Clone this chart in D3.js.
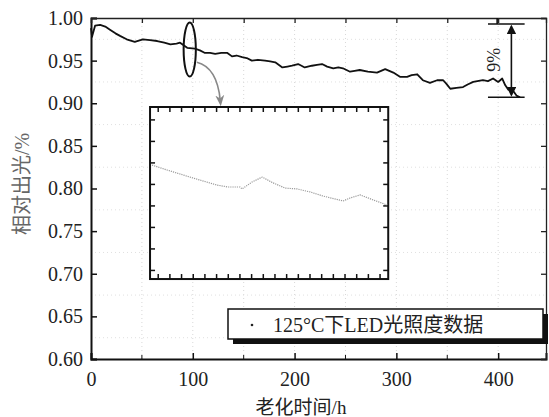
<!DOCTYPE html>
<html>
<head>
<meta charset="utf-8">
<script src="https://cdn.jsdelivr.net/npm/d3@7"></script>
<style>
  body { margin: 0; background: #fff; }
  svg text { font-family: "Liberation Serif", "Times New Roman", "DejaVu Serif", "Noto Sans CJK SC", serif !important; }
</style>
</head>
<body>
<div id="chart"></div>
<script>
// aging data: time (h) and relative light output
const hours = [0, 1, 4, 9, 14, 19, 24, 28.5, 35, 43, 51, 58, 65, 72, 78, 84, 87.5, 94.5, 102, 107, 112, 117, 122, 128, 134, 138.5, 143, 148.5, 153, 158, 164, 171, 176, 181, 188, 193, 197.5, 203.5, 210, 217, 222, 227, 232, 238, 243, 247.5, 254.5, 259, 264, 272, 281, 289, 293, 297, 303.5, 310.5, 315, 320.5, 326, 333, 340, 346, 349, 353, 359, 365.5, 370, 375.5, 385, 390, 395, 400, 404, 407, 410, 415, 418, 421.5];
const output = [0.988, 0.978, 0.991, 0.992, 0.990, 0.986, 0.982, 0.979, 0.975, 0.972, 0.975, 0.974, 0.973, 0.971, 0.969, 0.970, 0.971, 0.965, 0.964, 0.962, 0.959, 0.959, 0.958, 0.959, 0.959, 0.955, 0.956, 0.954, 0.953, 0.950, 0.951, 0.950, 0.949, 0.948, 0.942, 0.943, 0.944, 0.946, 0.942, 0.944, 0.945, 0.946, 0.943, 0.941, 0.942, 0.941, 0.937, 0.938, 0.939, 0.937, 0.936, 0.940, 0.938, 0.936, 0.931, 0.931, 0.933, 0.934, 0.927, 0.924, 0.927, 0.927, 0.923, 0.917, 0.918, 0.919, 0.922, 0.925, 0.927, 0.926, 0.929, 0.925, 0.929, 0.921, 0.916, 0.914, 0.909, 0.907];

// inset trace (inset's own tick units)
const insetX = [-0.53, 0.76, 2.13, 3.58, 5.04, 5.98, 7.01, 7.18, 8.04, 8.9, 9.84, 10.87, 11.9, 13.01, 14.12, 15.84, 16.44, 17.3, 18.41, 19.61];
const insetY = [4.9, 4.67, 4.44, 4.2, 3.97, 3.88, 3.88, 3.79, 4.11, 4.34, 4.07, 3.83, 3.79, 3.65, 3.46, 3.23, 3.37, 3.51, 3.28, 3.04];

const xTicks = [0, 100, 200, 300, 400];
const xMinor = [50, 150, 250, 350];
const yTicks = [0.60, 0.65, 0.70, 0.75, 0.80, 0.85, 0.90, 0.95, 1.00];
const legendLabel = "125°C下LED光照度数据";
const xLabel = "老化时间/h";
const yLabel = "相对出光/%";

const width = 549, height = 417;
const serif = "'Liberation Serif', 'Times New Roman', 'DejaVu Serif', 'Noto Sans CJK SC', serif";

const svg = d3.select("#chart").append("svg")
  .attr("width", width)
  .attr("height", height)
  .style("background", "#fff");

const x = d3.scaleLinear().domain([0, 447]).range([91, 546]);
const y = d3.scaleLinear().domain([0.60, 1.00]).range([359, 18]);

// faint dotted grid
svg.append("g").selectAll("line")
  .data([50, 100, 150, 200, 250, 300, 350, 400])
  .join("line")
  .attr("x1", d => x(d)).attr("x2", d => x(d))
  .attr("y1", y(1)).attr("y2", y(0.6))
  .attr("stroke", "#d8d8d8").attr("stroke-dasharray", "1,3");
svg.append("g").selectAll("line")
  .data([0.625, 0.675, 0.725, 0.775, 0.825, 0.875, 0.925, 0.975])
  .join("line")
  .attr("x1", x(0)).attr("x2", x(447))
  .attr("y1", d => y(d)).attr("y2", d => y(d))
  .attr("stroke", "#e0e0e0").attr("stroke-dasharray", "1,3");

// axes
const axB = svg.append("g")
  .attr("transform", `translate(0,${y(0.6)})`)
  .call(d3.axisBottom(x).tickValues(xTicks).tickSize(-6).tickPadding(10).tickFormat(d3.format("d")));
axB.append("g").selectAll("line").data(xMinor).join("line")
  .attr("x1", d => x(d)).attr("x2", d => x(d)).attr("y1", 0).attr("y2", -4).attr("stroke", "#111");

const axL = svg.append("g")
  .attr("transform", `translate(${x(0)},0)`)
  .call(d3.axisLeft(y).tickValues(yTicks).tickSize(-6).tickPadding(8).tickFormat(d3.format(".2f")));

const axT = svg.append("g")
  .attr("transform", `translate(0,${y(1)})`)
  .call(d3.axisTop(x).tickValues(xTicks.concat(xMinor)).tickSize(-5).tickFormat(""));

const axR = svg.append("g")
  .attr("transform", `translate(${x(447)},0)`)
  .call(d3.axisRight(y).tickValues(yTicks).tickSize(-5).tickFormat(""));

[axB, axL].forEach(g => {
  g.attr("font-family", serif);
  g.select(".domain").attr("stroke", "#111").attr("stroke-width", 2);
  g.selectAll(".tick line").attr("stroke", "#111").attr("stroke-width", 1.5);
  g.selectAll(".tick text").attr("fill", "#222").attr("font-family", serif).style("font-size", "20px");
});
[axT, axR].forEach(g => {
  g.select(".domain").attr("stroke", "#222").attr("stroke-width", 1.3);
  g.selectAll(".tick line").attr("stroke", "#222").attr("stroke-width", 1.3);
});
axB.selectAll(".tick text").attr("dy", "0.85em");

// main curve
const pts = hours.map((h, i) => [h, output[i]]);
svg.append("path")
  .datum(pts)
  .attr("fill", "none")
  .attr("stroke", "#111")
  .attr("stroke-width", 1.8)
  .attr("stroke-linejoin", "round")
  .attr("d", d3.line().x(d => x(d[0])).y(d => y(d[1])));

// ellipse marking zoomed region
svg.append("ellipse")
  .attr("cx", x(97)).attr("cy", y(0.963))
  .attr("rx", x(103) - x(97)).attr("ry", y(0.963) - y(0.9947))
  .attr("fill", "none").attr("stroke", "#111").attr("stroke-width", 2);

// gray arrow to inset
svg.append("defs").append("marker")
  .attr("id", "gh").attr("viewBox", "0 0 10 10").attr("refX", 5).attr("refY", 5)
  .attr("markerWidth", 7).attr("markerHeight", 7).attr("orient", "auto-start-reverse")
  .append("path").attr("d", "M0,1 L10,5 L0,9 L3,5 Z").attr("fill", "#888");
svg.append("path")
  .attr("d", `M${x(104)},${y(0.948)} Q${x(124)},${y(0.942)} ${x(127)},${y(0.903)}`)
  .attr("fill", "none").attr("stroke", "#888").attr("stroke-width", 1.6)
  .attr("marker-end", "url(#gh)");

// 9% annotation
const ann = svg.append("g").attr("stroke", "#111").attr("stroke-width", 1.6);
ann.append("line").attr("x1", x(390)).attr("x2", x(426)).attr("y1", y(0.993)).attr("y2", y(0.993));
ann.append("line").attr("x1", x(399)).attr("x2", x(399)).attr("y1", y(1.0)).attr("y2", y(0.993));
ann.append("line").attr("x1", x(390)).attr("x2", x(426)).attr("y1", y(0.907)).attr("y2", y(0.907));
svg.append("defs").append("marker")
  .attr("id", "bh").attr("viewBox", "0 0 10 10").attr("refX", 8).attr("refY", 5)
  .attr("markerWidth", 6).attr("markerHeight", 6).attr("orient", "auto-start-reverse")
  .append("path").attr("d", "M0,0 L10,5 L0,10 Z").attr("fill", "#111");
ann.append("line").attr("x1", x(413)).attr("x2", x(413)).attr("y1", y(0.990)).attr("y2", y(0.910))
  .attr("marker-start", "url(#bh)").attr("marker-end", "url(#bh)");
svg.append("text")
  .attr("transform", `translate(${x(396)},${y(0.951)}) rotate(-90)`)
  .attr("text-anchor", "middle").attr("dy", "0.35em").attr("font-family", serif)
  .style("font-size", "18px").attr("fill", "#222").text("9%");

// inset
const ix = d3.scaleLinear().domain([-0.7, 19.7]).range([x(58), x(292)]);
const iy = d3.scaleLinear().domain([-0.4, 7.6]).range([y(0.6938), y(0.8956)]);
const inset = svg.append("g");
inset.append("rect")
  .attr("x", x(58)).attr("y", y(0.8956))
  .attr("width", x(292) - x(58)).attr("height", y(0.6938) - y(0.8956))
  .attr("fill", "#fff").attr("stroke", "#111").attr("stroke-width", 2);
const xt = d3.range(0, 20), yt = d3.range(0, 8);
inset.append("g").selectAll("line").data(xt).join("line")
  .attr("x1", d => ix(d)).attr("x2", d => ix(d)).attr("y1", iy(7.6)).attr("y2", iy(7.6) + 5)
  .attr("stroke", "#111").attr("stroke-width", 1.5);
inset.append("g").selectAll("line").data(xt).join("line")
  .attr("x1", d => ix(d)).attr("x2", d => ix(d)).attr("y1", iy(-0.4)).attr("y2", iy(-0.4) - 5)
  .attr("stroke", "#111").attr("stroke-width", 1.5);
inset.append("g").selectAll("line").data(yt).join("line")
  .attr("x1", ix(-0.7)).attr("x2", ix(-0.7) + 5).attr("y1", d => iy(d)).attr("y2", d => iy(d))
  .attr("stroke", "#111").attr("stroke-width", 1.5);
inset.append("g").selectAll("line").data(yt).join("line")
  .attr("x1", ix(19.7)).attr("x2", ix(19.7) - 5).attr("y1", d => iy(d)).attr("y2", d => iy(d))
  .attr("stroke", "#111").attr("stroke-width", 1.5);
inset.append("path")
  .datum(insetX.map((v, i) => [v, insetY[i]]))
  .attr("fill", "none").attr("stroke", "#9a9a9a").attr("stroke-width", 1.2)
  .attr("stroke-dasharray", "1.2,1")
  .attr("d", d3.line().x(d => ix(d[0])).y(d => iy(d[1])));

// legend with shadow
const lg = svg.append("g").attr("transform", "translate(228,309)");
lg.append("rect").attr("x", 5).attr("y", 5).attr("width", 315).attr("height", 30).attr("fill", "#111");
lg.append("rect").attr("width", 315).attr("height", 30)
  .attr("fill", "#fff").attr("stroke", "#111").attr("stroke-width", 1.5);
lg.append("circle").attr("cx", 24).attr("cy", 16).attr("r", 1.3).attr("fill", "#222");
lg.append("text").attr("x", 45).attr("y", 23).attr("font-family", serif)
  .style("font-size", "20px").attr("fill", "#222").text(legendLabel);

// axis titles
svg.append("text")
  .attr("x", 301).attr("y", 414).attr("text-anchor", "middle").attr("font-family", serif)
  .style("font-size", "19px").attr("fill", "#222").text(xLabel);
svg.append("text")
  .attr("transform", `translate(22,184) rotate(-90)`)
  .attr("text-anchor", "middle").attr("dy", "0.35em").attr("font-family", serif)
  .style("font-size", "20px").attr("fill", "#666").text(yLabel);
</script>
</body>
</html>
